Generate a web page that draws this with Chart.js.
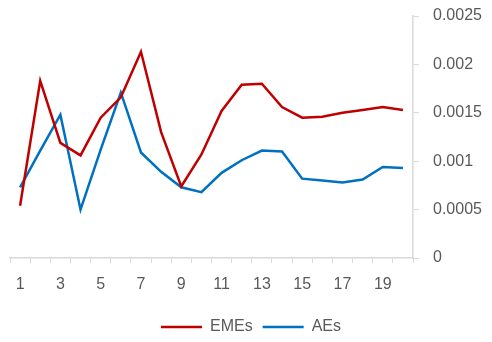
<!DOCTYPE html>
<html>
<head>
<meta charset="utf-8">
<script src="https://cdn.jsdelivr.net/npm/chart.js@4/dist/chart.umd.min.js"></script>
<style>
  html, body { margin: 0; padding: 0; background: #fff; }
  #wrap { width: 492px; height: 342px; }
</style>
</head>
<body>
<div id="wrap"><canvas id="chart"></canvas></div>
<script>
// Data
var periods = ['1','2','3','4','5','6','7','8','9','10','11','12','13','14','15','16','17','18','19','20'];
var emes = [0.00054, 0.00183, 0.00119, 0.00106, 0.00145, 0.00166, 0.00213, 0.0013, 0.00074, 0.00107,
            0.00152, 0.00179, 0.0018, 0.00156, 0.00145, 0.00146, 0.0015, 0.00153, 0.00156, 0.00153];
var aes = [0.00073, 0.00111, 0.00148, 0.0005, 0.00112, 0.00171, 0.00109, 0.00089, 0.00073, 0.00068,
           0.00088, 0.00101, 0.00111, 0.0011, 0.00082, 0.0008, 0.00078, 0.00081, 0.00094, 0.00093];
var yTicks = [0, 0.0005, 0.001, 0.0015, 0.002, 0.0025];

var axisColor = '#d9d9d9';
var textColor = '#595959';
var font = { family: 'Liberation Sans', size: 16 };

var ctx = document.getElementById('chart').getContext('2d');
var chart = new Chart(ctx, {
    type: 'line',
    data: {
        labels: periods,
        datasets: [{
            label: 'EMEs',
            data: emes,
            borderColor: '#c00000',
            backgroundColor: '#c00000',
            borderWidth: 2.5,
            pointRadius: 0,
            tension: 0
        }, {
            label: 'AEs',
            data: aes,
            borderColor: '#0070c0',
            backgroundColor: '#0070c0',
            borderWidth: 2.5,
            pointRadius: 0,
            tension: 0
        }]
    },
    options: {
        responsive: true,
        maintainAspectRatio: false,
        animation: false,
        layout: { padding: { top: 16, right: 0, left: 10, bottom: -3 } },
        plugins: {
            tooltip: { enabled: false },
            legend: {
                position: 'bottom',
                labels: {
                    usePointStyle: true,
                    pointStyle: 'line',
                    pointStyleWidth: 41,
                    color: textColor,
                    font: font,
                    padding: 10
                }
            }
        },
        scales: {
            x: {
                offset: true,
                // fixed height so the plot bottom sits where the reference has it
                afterFit: function(axis) { axis.height = 51; },
                grid: {
                    offset: true,
                    drawOnChartArea: false,
                    drawTicks: true,
                    tickLength: 5,
                    color: axisColor
                },
                border: { color: axisColor, width: 1.5 },
                ticks: {
                    autoSkip: false,
                    maxRotation: 0,
                    color: textColor,
                    font: font,
                    padding: 12,
                    callback: function(val, i) { return i % 2 === 0 ? periods[i] : ''; }
                }
            },
            y: {
                position: 'right',
                min: 0,
                max: 0.0025,
                afterBuildTicks: function(axis) {
                    axis.ticks = yTicks.map(function(v) { return { value: v }; });
                },
                afterFit: function(axis) {
                    axis.width = 79;
                    axis.paddingTop = 0;
                    axis.paddingBottom = 0;
                },
                grid: {
                    drawOnChartArea: false,
                    drawTicks: true,
                    tickLength: 6,
                    color: axisColor
                },
                border: { color: axisColor, width: 1.5 },
                ticks: {
                    color: textColor,
                    font: font,
                    padding: 14,
                    callback: function(v) { return String(v); }
                }
            }
        }
    }
});
</script>
</body>
</html>
